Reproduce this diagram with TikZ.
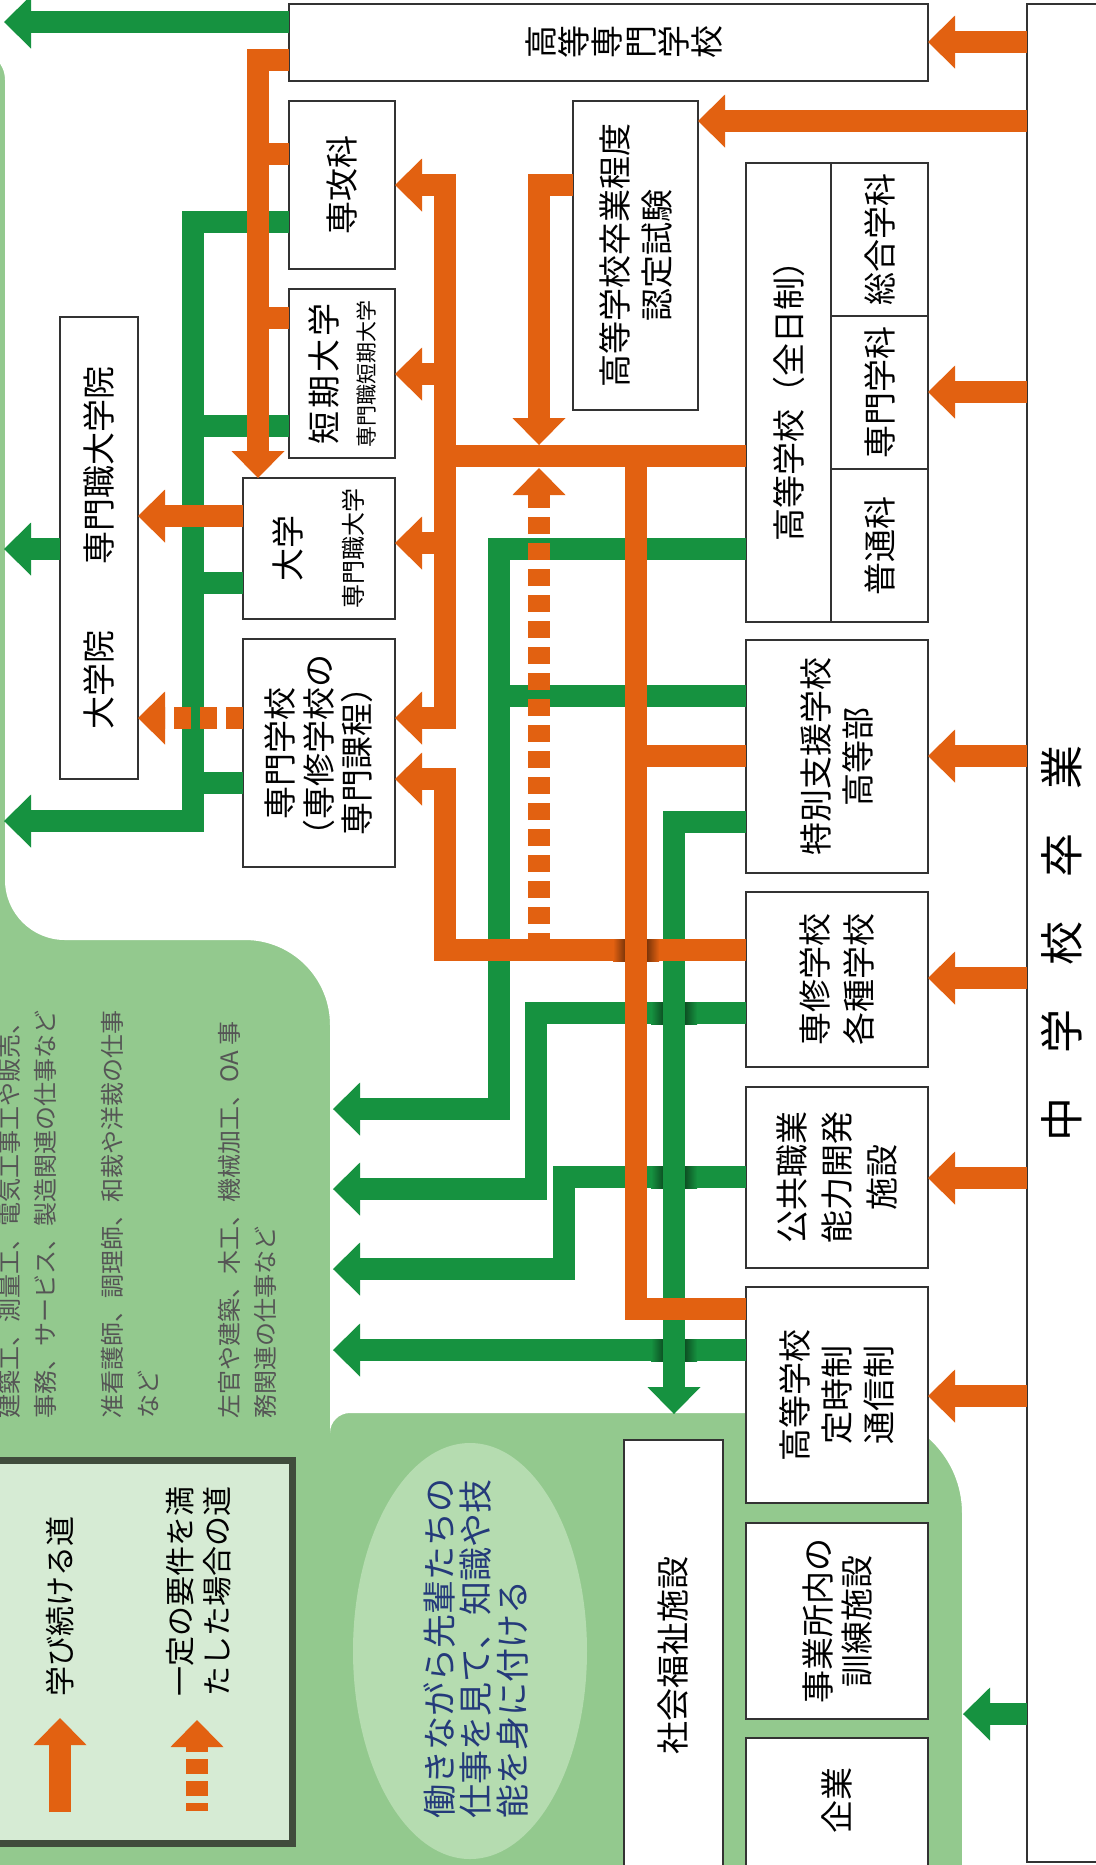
\documentclass[tikz,border=0pt]{standalone}
\usepackage{fontspec}
\setmainfont{Noto Sans CJK JP}
\usepackage{tikz}
\usetikzlibrary{arrows.meta,positioning,fit,shapes.geometric}

\definecolor{roadorange}{RGB}{226,97,17}
\definecolor{roadgreen}{RGB}{22,146,64}
\definecolor{fieldgreen}{RGB}{147,201,142}
\definecolor{ovalgreen}{RGB}{181,220,176}
\definecolor{legendfill}{RGB}{214,235,212}
\definecolor{legendline}{RGB}{64,76,60}
\definecolor{boxline}{RGB}{51,51,51}
\definecolor{jobgray}{RGB}{85,85,85}
\definecolor{ovaltext}{RGB}{36,58,122}

\tikzset{
  schoolbox/.style={draw=boxline, line width=1.3pt, fill=white, inner sep=0pt, outer sep=0pt},
  boxtext/.style={rotate=90, align=center, inner sep=0pt, font=\fontsize{16.5}{21}\selectfont},
  %% ways
  wayhead/.style={-{Triangle[width=26.5pt, length=13.5pt, line width=0pt]}},
  wayheads/.style={{Triangle[width=26.5pt, length=13.5pt, line width=0pt]}-{Triangle[width=26.5pt, length=13.5pt, line width=0pt]}},
  orangeway/.style={draw=roadorange, line width=11pt, line join=miter},
  greenway/.style={draw=roadgreen, line width=11pt, line join=miter},
  dashway/.style={dash pattern=on 8.5pt off 4.5pt},
  %% texts
  jobtext/.style={rotate=90, anchor=north west, align=left, inner sep=0pt,
    text=jobgray, font=\fontsize{12}{18}\selectfont},
  keytext/.style={rotate=90, anchor=west, align=left, inner sep=0pt,
    font=\fontsize{15}{18.5}\selectfont},
}

\begin{document}
\begin{tikzpicture}[x=0.5pt, y=-0.5pt]
\useasboundingbox (0,0) rectangle (1096,1865);

%% Field behind the chart
\fill[fieldgreen] (-20,50) rectangle (1120,1890);
\fill[white] (-20,-20) -- (1120,-20) -- (1120,1890) -- (962,1890) -- (962,1513)
  arc[start angle=0, end angle=90, radius=50pt] -- (350,1413)
  arc[start angle=90, end angle=180, radius=10pt] -- (330,1025)
  arc[start angle=0, end angle=90, radius=42.5pt] -- (65,940)
  arc[start angle=-90, end angle=-180, radius=30pt] -- (5,80)
  arc[start angle=0, end angle=90, radius=15pt] -- (-20,50) -- cycle;

%% Legend and oval
\node[fit={(-10,1460) (292,1843)}, draw=legendline, line width=3.5pt, fill=legendfill, inner sep=0pt] (legend) {};
\node[ellipse, fill=ovalgreen, minimum width=117pt, minimum height=208pt, inner sep=0pt] (senpai) at (470,1651) {};

%% Schools
\node[schoolbox, fit={(1027,4) (1100,1862)}] (chugaku) {};
\node[schoolbox, fit={(289,4) (928,81)}] (kosen) {};
\node[schoolbox, fit={(573,101) (698,410)}] (ninteishiken) {};
\node[schoolbox, fit={(289,101) (395,269)}] (senkoka) {};
\node[schoolbox, fit={(289,289) (395,458)}] (tandai) {};
\node[schoolbox, fit={(243,478) (395,619)}] (daigaku) {};
\node[schoolbox, fit={(243,639) (395,867)}] (senmon) {};
\node[schoolbox, fit={(60,317) (138,779)}] (daigakuin) {};
\node[schoolbox, fit={(746,163) (831,622)}] (zennichi) {};
\node[schoolbox, fit={(831,163) (928,316)}] (sogo) {};
\node[schoolbox, fit={(831,316) (928,469)}] (senmonka) {};
\node[schoolbox, fit={(831,469) (928,622)}] (futsu) {};
\node[schoolbox, fit={(746,640) (928,873)}] (tokubetsu) {};
\node[schoolbox, fit={(746,892) (928,1067)}] (senshu) {};
\node[schoolbox, fit={(746,1087) (928,1268)}] (kokyo) {};
\node[schoolbox, fit={(746,1287) (928,1503)}] (teiji) {};
\node[schoolbox, fit={(746,1523) (928,1719)}] (jigyosho) {};
\node[schoolbox, fit={(746,1738) (928,1880)}] (kigyo) {};
\node[schoolbox, fit={(624,1440) (723,1880)}] (fukushi) {};

%% School names
\node[boxtext, font=\fontsize{22}{26}\selectfont] (chugakuT) at (1062,943) {中　学　校　卒　業};
\node[boxtext, font=\fontsize{16.5}{16.6}\selectfont] (kosenT) at (624,42) {高\\等\\専\\門\\学\\校};
\node[boxtext] (ninteishikenT) at (ninteishiken) {高等学校卒業程度\\認定試験};
\node[boxtext] (senkokaT) at (senkoka) {専攻科};
\node[boxtext] (tandaiT) at (tandai) {短\kern1.5pt 期\kern1.5pt 大\kern1.5pt 学\\[-2pt]{\fontsize{10.5}{12}\selectfont 専門職短期大学}};
\node[boxtext] (daigakuT) at (daigaku) {大学\\[10pt]{\fontsize{12}{14}\selectfont 専門職大学}};
\node[boxtext, font=\fontsize{16.5}{19.3}\selectfont] (senmonT) at (senmon) {専門学校\\（専修学校の\\専門課程）};
\node[boxtext] (daigakuinT) at (daigakuin) {大学院　　専門職大学院};
\node[boxtext] (zennichiT) at (zennichi) {高等学校（全日制）};
\node[boxtext] (sogoT) at (sogo) {総合学科};
\node[boxtext] (senmonkaT) at (senmonka) {専門学科};
\node[boxtext] (futsuT) at (futsu) {普通科};
\node[boxtext] (tokubetsuT) at (tokubetsu) {特別支援学校\\高等部};
\node[boxtext, font=\fontsize{16.5}{22}\selectfont] (senshuT) at (senshu) {専修学校\\各種学校};
\node[boxtext, font=\fontsize{16.5}{22.5}\selectfont] (kokyoT) at (kokyo) {公共職業\\能力開発\\施設};
\node[boxtext] (teijiT) at (teiji) {高等学校\\定時制\\通信制};
\node[boxtext, font=\fontsize{16.5}{19.5}\selectfont] (jigyoshoT) at (jigyosho) {事業所内の\\訓練施設};
\node[boxtext] (kigyoT) at (837,1800) {企業};
\node[boxtext] (fukushiT) at (673,1655) {社会福祉施設};

%% Green ways (orange runs over them)
\draw[greenway, wayhead] (kosen.west |- 0,22) -- (4,22);
\draw[greenway, wayhead] (senkoka.west |- 0,222) -- (193,222) -- (193,821) -- (4,821);
\foreach \src/\y in {tandai/426, daigaku/583, senmon/783}
  \draw[greenway] (\src.west |- 0,\y) -- (193,\y);
\draw[greenway, wayhead] (daigakuin.west |- 0,549) -- (4,549);
\draw[greenway, wayhead] (zennichi.west |- 0,549) -- (499,549) -- (499,1109) -- (333,1109);
\draw[greenway] (tokubetsu.west |- 0,696) -- (499,696);
\draw[greenway, wayhead] (senshu.west |- 0,1013) -- (536,1013) -- (536,1189) -- (333,1189);
\draw[greenway, wayhead] (kokyo.west |- 0,1177) -- (564,1177) -- (564,1269) -- (333,1269);
\draw[greenway, wayhead] (teiji.west |- 0,1350) -- (333,1350);
\foreach \y in {1013,1177,1350} {
  \shade[left color=roadgreen, right color=roadgreen!55!black] (651,\y-11) rectangle (663,\y+11);
  \shade[left color=roadgreen!55!black, right color=roadgreen] (685,\y-11) rectangle (697,\y+11);
}
\draw[greenway, wayhead] (tokubetsu.west |- 0,822) -- (674,822) -- (674,1414);
\draw[greenway, wayhead] (chugaku.west |- 0,1714) -- (963,1714);

%% Orange ways
\draw[orangeway, wayhead] (kosen.west |- 0,60) -- (258,60) -- (258,0 |- daigaku.north);
\foreach \src/\y in {senkoka/154, tandai/318}
  \draw[orangeway] (\src.west |- 0,\y) -- (258,\y);
\draw[orangeway, wayhead] (daigaku.west |- 0,516) -- (daigakuin.east |- 0,516);
\draw[orangeway, dashway, wayhead] (senmon.west |- 0,718) -- (daigakuin.east |- 0,718);
\draw[orangeway] (zennichi.west |- 0,456) -- (445,456);
\draw[orangeway, wayheads] (senkoka.east |- 0,185) -- (445,185) -- (445,718) -- (senmon.east |- 0,718);
\foreach \dst/\y in {tandai/374, daigaku/543}
  \draw[orangeway, wayhead] (445,\y) -- (\dst.east |- 0,\y);
\draw[orangeway, wayhead] (ninteishiken.west |- 0,185) -- (539,185) -- (539,445);
\draw[orangeway, dashway, wayhead] (539,950) -- (539,468);
\draw[orangeway, wayhead] (senshu.west |- 0,950) -- (445,950) -- (445,779) -- (senmon.east |- 0,779);
\shade[left color=roadorange, right color=roadorange!55!black] (613,939) rectangle (625,961);
\shade[left color=roadorange!55!black, right color=roadorange] (647,939) rectangle (659,961);
\draw[orangeway] (636,456) -- (636,1309) -- (teiji.west |- 0,1309);
\draw[orangeway] (tokubetsu.west |- 0,756) -- (636,756);
\foreach \dst/\y in {kosen/42, ninteishiken/121, senmonka/392, tokubetsu/756, senshu/978, kokyo/1178, teiji/1396}
  \draw[orangeway, wayhead] (chugaku.west |- 0,\y) -- (\dst.east |- 0,\y);

%% Legend keys
\coordinate (keyA) at (60,1812);
\coordinate (keyB) at (60,1718);
\coordinate (keyC) at (197,1811);
\coordinate (keyD) at (197,1720);
\draw[orangeway, wayhead] (keyA) -- (keyB);
\draw[orangeway, dash pattern=on 7.5pt off 3.5pt, dash phase=3.5pt, wayhead] (keyC) -- (keyD);
\node[keytext] (keyAtext) at (60,1697) {学び続ける道};
\node[keytext] (keyCtext) at (198.5,1697) {一定の要件を満\\たした場合の道};

%% Jobs and oval text
\node[jobtext] (jobA) at (-2,1419) {建築工、測量工、電気工事工や販売、\\事務、サービス、製造関連の仕事など};
\node[jobtext] (jobB) at (101,1419) {准看護師、調理師、和裁や洋裁の仕事\\など};
\node[jobtext] (jobC) at (218,1419) {左官や建築、木工、機械加工、OA 事\\務関連の仕事など};
\node[rotate=90, align=left, inner sep=0pt, text=ovaltext, font=\fontsize{17}{18.25}\selectfont] (senpaitext) at (476,1648) {働きながら先輩たちの\\仕事を見て、知識や技\\能を身に付ける};

\end{tikzpicture}
\end{document}
